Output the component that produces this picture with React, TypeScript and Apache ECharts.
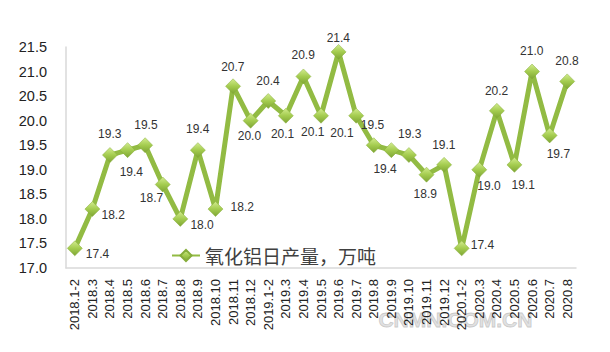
import React, { useEffect, useRef } from "react";
import * as echarts from "echarts";

const categories = [
  "2018.1-2", "2018.3", "2018.4", "2018.5", "2018.6", "2018.7", "2018.8", "2018.9", "2018.10", "2018.11", "2018.12",
  "2019.1-2", "2019.3", "2019.4", "2019.5", "2019.6", "2019.7", "2019.8", "2019.9", "2019.10", "2019.11", "2019.12",
  "2020.1-2", "2020.3", "2020.4", "2020.5", "2020.6", "2020.7", "2020.8",
];

const dailyOutput = [
  17.4, 18.2, 19.3, 19.4, 19.5, 18.7, 18.0, 19.4, 18.2, 20.7, 20.0,
  20.4, 20.1, 20.9, 20.1, 21.4, 20.1, 19.5, 19.4, 19.3, 18.9, 19.1,
  17.4, 19.0, 20.2, 19.1, 21.0, 19.7, 20.8,
];

// label centre offset from its point, in px: [dx, dy]
const labelOffsets: [number, number][] = [
  [23, 6], [21, 6], [0, -21], [4, 22], [1, -20],
  [-11, 14], [22, 6], [0, -21], [27, -2], [0, -19],
  [-1, 16], [0, -20], [-3, 18], [0, -21], [-8, 16],
  [0, -14], [-14, 17], [-1, -20], [-6, 19], [1, -21],
  [-1, 20], [0, -20], [21, -3], [10, 16], [0, -20],
  [9, 20], [0, -20], [9, 19], [0, -20],
];

const seriesName = "氧化铝日产量，万吨";
const yMin = 17.0;
const yMax = 21.5;
const yInterval = 0.5;
const markerSize = 15;

export default function App() {
  const ref = useRef<HTMLDivElement>(null);
  useEffect(() => {
    if (!ref.current) return;
    const chart = echarts.init(ref.current, null, { renderer: "svg" });
    const markerFill = new echarts.graphic.LinearGradient(0, 0, 0, 1, [
      { offset: 0, color: "#d2ec8e" },
      { offset: 0.5, color: "#a4cc4f" },
      { offset: 1, color: "#7ea534" },
    ]);
    const half = markerSize / 2;
    chart.setOption({
      animation: false,
      backgroundColor: "#ffffff",
      grid: { left: 58, right: 26, top: 39, bottom: 84 },
      legend: {
        left: 158,
        top: 233,
        itemWidth: 28,
        itemHeight: 14,
        itemGap: 4,
        textStyle: {
          fontFamily: "Noto Sans CJK SC",
          fontSize: 19,
          color: "#404040",
        },
        data: [seriesName],
      },
      xAxis: {
        type: "category",
        data: categories,
        boundaryGap: true,
        axisLine: { show: true, lineStyle: { color: "#d9d9d9", width: 1.5 } },
        axisTick: { show: false },
        axisLabel: {
          rotate: 90,
          interval: 0,
          margin: 11,
          fontFamily: "Liberation Sans",
          fontSize: 13,
          color: "#222",
        },
      },
      yAxis: {
        type: "value",
        min: yMin,
        max: yMax,
        interval: yInterval,
        axisLine: { show: true, lineStyle: { color: "#d9d9d9", width: 1.5 } },
        axisTick: { show: false },
        splitLine: { show: false },
        axisLabel: {
          margin: 19,
          fontFamily: "Liberation Sans",
          fontSize: 14.5,
          color: "#222",
          formatter: (v: number) => v.toFixed(1),
        },
      },
      series: [
        {
          name: seriesName,
          type: "line",
          data: dailyOutput.map((v, i) => ({
            value: v,
            label: {
              position: [half + labelOffsets[i][0], half + labelOffsets[i][1]],
            },
          })),
          symbol: "diamond",
          symbolSize: markerSize,
          showAllSymbol: true,
          lineStyle: { color: "#92bb43", width: 5 },
          itemStyle: { color: markerFill, borderColor: "#86ad3a", borderWidth: 0.5 },
          label: {
            show: true,
            align: "center",
            verticalAlign: "middle",
            fontFamily: "Liberation Sans",
            fontSize: 12,
            color: "#333",
            formatter: (p: any) => Number(p.value).toFixed(1),
          },
          labelLayout: { hideOverlap: false },
        },
      ],
      graphic: [
        {
          type: "text",
          left: 370,
          top: 301,
          silent: true,
          style: {
            text: "CNMN.COM.CN",
            fontFamily: "Liberation Sans",
            fontSize: 21,
            fontWeight: "bold",
            fill: "rgba(200,200,200,0.55)",
            stroke: "rgba(150,150,150,0.5)",
            lineWidth: 0.8,
          },
        },
      ],
    });
    return () => chart.dispose();
  }, []);
  return <div ref={ref} style={{ width: 594, height: 344 }} />;
}
